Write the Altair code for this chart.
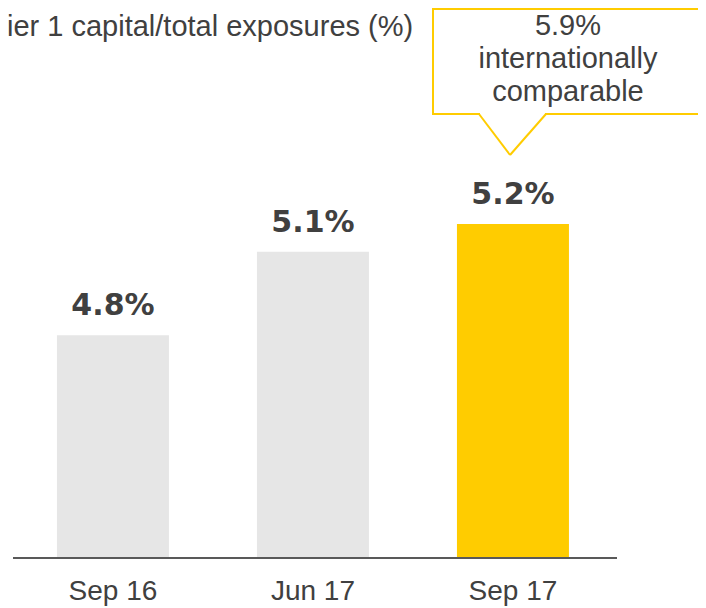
import altair as alt
import pandas as pd

# ---- data ----
categories = ["Sep 16", "Jun 17", "Sep 17"]
values = [4.8, 5.1, 5.2]
highlight = ["no", "no", "yes"]
callout_lines = ["5.9%", "internationally", "comparable"]
subtitle = ["ier 1 capital/total exposures (%)"]
axis_base = 4.0

df = pd.DataFrame({
    "period": categories,
    "value": values,
    "base": [axis_base] * len(values),
    "label": [f"{v:.1f}%" for v in values],
    "highlight": highlight,
})

callout_df = pd.DataFrame({
    "period": [categories[2]] * len(callout_lines),
    "value": [values[2]] * len(callout_lines),
    "line": callout_lines,
})

TEXT_COLOR = "#404040"
GREY = "#e6e6e6"
YELLOW = "#ffcc00"

x = alt.X(
    "period:N",
    scale=alt.Scale(domain=categories, paddingInner=0.44, paddingOuter=0.445, align=0.275),
    axis=None,
)
y = alt.Y("value:Q", scale=alt.Scale(domain=[3.8275, 5.9763], zero=False, nice=False), axis=None)
y_base = alt.Y("base:Q", scale=alt.Scale(domain=[3.8275, 5.9763], zero=False, nice=False), axis=None)

base = alt.Chart(df)

bars = base.mark_bar().encode(
    x=x,
    y=y,
    y2="base:Q",
    color=alt.Color("highlight:N", scale=alt.Scale(domain=["no", "yes"], range=[GREY, YELLOW]), legend=None),
)

axis_line = base.mark_rule(color="#595959", strokeWidth=2).encode(
    x=alt.value(5), x2=alt.value(609), y=y_base
)

x_labels = base.mark_text(
    font="Liberation Sans", fontSize=28, color=TEXT_COLOR, dy=42,
    baseline="alphabetic", align="center",
).encode(x=x, y=y_base, text="period:N")

bar_labels = base.mark_text(
    font="DejaVu Sans", fontWeight="bold", fontSize=30, color=TEXT_COLOR,
    dy=-20, baseline="alphabetic", align="center",
).encode(x=x, y=y, text="label:N")

ann = alt.Chart(pd.DataFrame({"a": [1]}))

# callout box (annotation)
callout_box = ann.mark_rect(fill="white", stroke=YELLOW, strokeWidth=2).encode(
    x=alt.value(425), x2=alt.value(694), y=alt.value(1), y2=alt.value(106)
)
gap_cover = ann.mark_rule(color="white", strokeWidth=4).encode(
    x=alt.value(472), x2=alt.value(537), y=alt.value(106), y2=alt.value(106)
)
pointer_left = ann.mark_rule(color=YELLOW, strokeWidth=2).encode(
    x=alt.value(471), x2=alt.value(502), y=alt.value(106), y2=alt.value(147)
)
pointer_right = ann.mark_rule(color=YELLOW, strokeWidth=2).encode(
    x=alt.value(502), x2=alt.value(538), y=alt.value(147), y2=alt.value(106)
)

callout_layers = []
for i, line in enumerate(callout_lines):
    callout_layers.append(
        alt.Chart(callout_df).transform_filter(
            alt.FieldEqualPredicate(field="line", equal=line)
        ).mark_text(
            font="Liberation Sans", fontSize=29, color=TEXT_COLOR,
            dx=55, dy=-189 + 33 * i, align="center", baseline="alphabetic",
        ).encode(x=x, y=y, text="line:N")
    )

subtitle_text = alt.Chart(pd.DataFrame({"t": subtitle})).mark_text(
    align="left", baseline="alphabetic", font="Liberation Sans", fontSize=29, color=TEXT_COLOR,
).encode(x=alt.value(-1), y=alt.value(28), text="t:N")

chart = alt.layer(
    bars, axis_line, x_labels, bar_labels, callout_box, gap_cover, pointer_left, pointer_right,
    *callout_layers, subtitle_text
).properties(
    width=690,
    height=598,
    padding=0,
    autosize=alt.AutoSizeParams(type="none"),
).configure_view(strokeWidth=0)

chart.save("out.html", embed_options={"renderer": "svg", "actions": False})
